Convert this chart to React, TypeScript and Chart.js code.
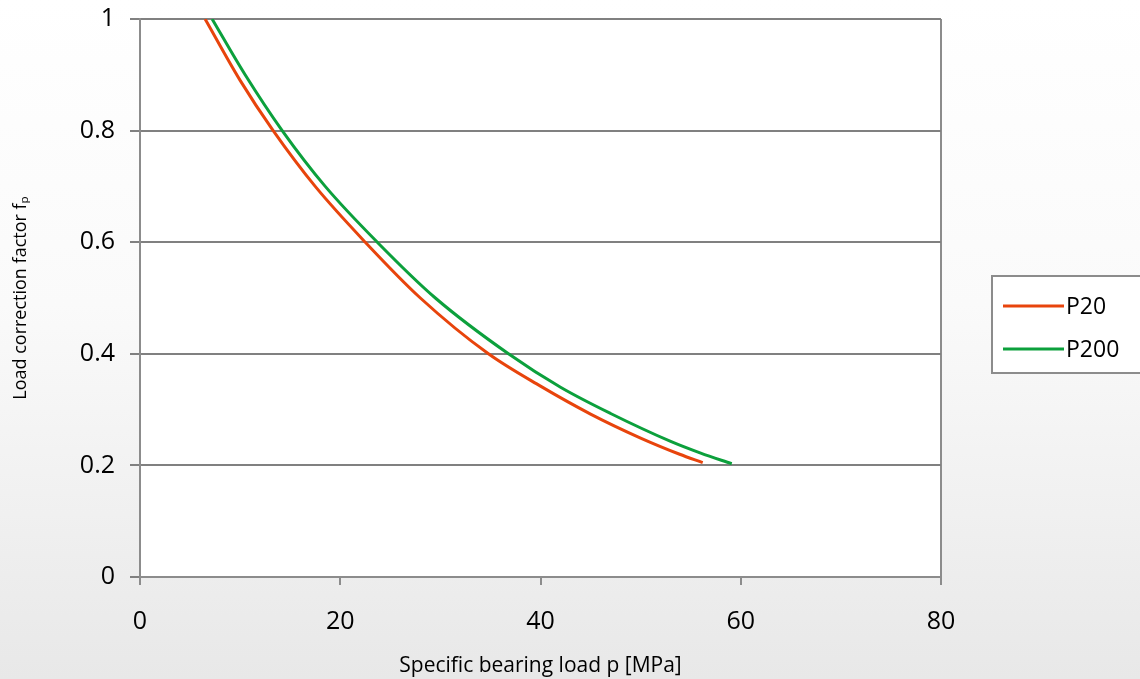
import { useEffect, useRef } from "react";
import { Chart, registerables } from "chart.js";

Chart.register(...registerables);

const seriesNames = ["P20", "P200"];
const seriesColors = ["#e8440c", "#0ca03c"];
const xTicks = [0, 20, 40, 60, 80];
const yTicks = [0, 0.2, 0.4, 0.6, 0.8, 1];
const p20Load = [6.5, 10, 13.3, 17.5, 22.5, 28, 34.8, 40, 45, 50, 53.9, 56.2];
const p20Factor = [1.0, 0.89, 0.8, 0.7, 0.6, 0.5, 0.4, 0.342, 0.292, 0.249, 0.22, 0.205];
const p200Load = [7.2, 10.5, 14.2, 18.5, 23.7, 29.5, 36.8, 42, 47, 53, 56, 59.1];
const p200Factor = [1.0, 0.9, 0.8, 0.7, 0.6, 0.5, 0.4, 0.34, 0.293, 0.243, 0.222, 0.203];

const xTitle = "Specific bearing load p [MPa]";
const yTitle = "Load correction factor fₚ";

const FONT = "'Open Sans', 'DejaVu Sans', sans-serif";

const plotBg = {
  id: "plotBg",
  beforeDraw(chart: any) {
    const { ctx, chartArea } = chart;
    ctx.save();
    ctx.fillStyle = "#ffffff";
    ctx.fillRect(chartArea.left, chartArea.top, chartArea.right - chartArea.left, chartArea.bottom - chartArea.top);
    ctx.restore();
  },
};

const boxLegend = {
  id: "boxLegend",
  afterDraw(chart: any) {
    const { ctx } = chart;
    ctx.save();
    ctx.fillStyle = "#ffffff";
    ctx.fillRect(992, 276, 150, 97);
    ctx.strokeStyle = "#8c8c8c";
    ctx.lineWidth = 2;
    ctx.strokeRect(992, 276, 160, 97);
    chart.data.datasets.forEach((ds: any, i: number) => {
      const y = 306 + i * 43;
      ctx.strokeStyle = ds.borderColor;
      ctx.lineWidth = 3;
      ctx.beginPath();
      ctx.moveTo(1003, y);
      ctx.lineTo(1064, y);
      ctx.stroke();
      ctx.fillStyle = "#000";
      ctx.font = `23px ${FONT}`;
      ctx.textBaseline = "middle";
      ctx.textAlign = "left";
      ctx.fillText(ds.label, 1066, y + 1);
    });
    ctx.restore();
  },
};

export default function App() {
  const ref = useRef<HTMLCanvasElement | null>(null);

  useEffect(() => {
    document.body.style.margin = "0";
    const canvas = ref.current;
    if (!canvas) return;
    const toPts = (xs: number[], ys: number[]) => xs.map((x, i) => ({ x, y: ys[i] }));
    const chart = new Chart(canvas, {
      type: "line",
      data: {
        datasets: [
          {
            label: seriesNames[0],
            data: toPts(p20Load, p20Factor),
            borderColor: seriesColors[0],
            backgroundColor: seriesColors[0],
            borderWidth: 3,
            pointRadius: 0,
            cubicInterpolationMode: "monotone",
          },
          {
            label: seriesNames[1],
            data: toPts(p200Load, p200Factor),
            borderColor: seriesColors[1],
            backgroundColor: seriesColors[1],
            borderWidth: 3,
            pointRadius: 0,
            cubicInterpolationMode: "monotone",
          },
        ],
      },
      options: {
        animation: false,
        responsive: false,
        devicePixelRatio: 1,
        layout: { padding: { left: 0, right: 199, top: 19, bottom: 0 } },
        plugins: { legend: { display: false }, tooltip: { enabled: false } },
        scales: {
          x: {
            type: "linear",
            min: xTicks[0],
            max: xTicks[xTicks.length - 1],
            afterBuildTicks: (s: any) => {
              s.ticks = xTicks.map((v) => ({ value: v }));
            },
            afterFit: (s: any) => {
              s.height = 102;
              s.paddingLeft = 0;
              s.paddingRight = 0;
            },
            grid: {
              color: (c: any) => (c.tick && c.tick.value === 80 ? "#8c8c8c" : "rgba(0,0,0,0)"),
              tickColor: "#8c8c8c",
              tickLength: 8,
              lineWidth: 2,
            },
            border: { color: "#8c8c8c", width: 2 },
            ticks: {
              color: "#000",
              font: { family: FONT, size: 25 },
              padding: 22,
              maxRotation: 0,
              callback: (v: any) => String(v),
            },
            title: {
              display: true,
              text: xTitle,
              color: "#000",
              font: { family: FONT, size: 21 },
              padding: { top: 0, bottom: 0 },
            },
          },
          y: {
            type: "linear",
            min: 0,
            max: 1,
            afterBuildTicks: (s: any) => {
              s.ticks = yTicks.map((v) => ({ value: v }));
            },
            afterFit: (s: any) => {
              s.width = 140;
              s.paddingTop = 0;
              s.paddingBottom = 0;
            },
            grid: {
              color: "#808080",
              tickColor: "#808080",
              tickLength: 10,
              lineWidth: 2,
            },
            border: { color: "#8c8c8c", width: 2 },
            ticks: {
              color: "#000",
              font: { family: FONT, size: 25 },
              padding: 15,
              callback: (v: any) => String(v),
            },
            title: {
              display: true,
              text: yTitle,
              color: "#000",
              font: { family: FONT, size: 18 },
              padding: { top: 10, bottom: 0 },
            },
          },
        },
      },
      plugins: [plotBg, boxLegend],
    } as any);
    return () => chart.destroy();
  }, []);

  return (
    <div
      style={{
        width: 1140,
        height: 679,
        background: "linear-gradient(to bottom, #ffffff 0%, #fafafa 45%, #e8e8e8 100%)",
      }}
    >
      <canvas ref={ref} width={1140} height={679} style={{ display: "block" }} />
    </div>
  );
}
